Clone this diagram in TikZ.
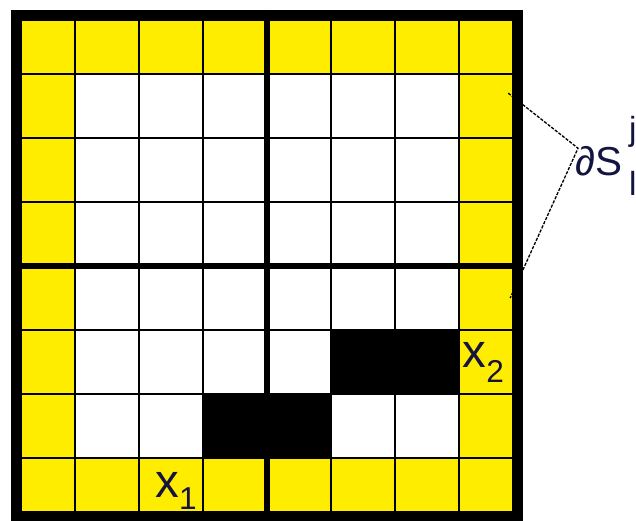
\documentclass[tikz,border=0pt]{standalone}
\usepackage{fontspec}
\setmainfont{Liberation Sans}
\definecolor{cellyellow}{RGB}{255,237,0}
\definecolor{labelblue}{RGB}{20,20,64}

\begin{document}
\begin{tikzpicture}[x=1.28cm,y=-1.28cm,thin line/.style={line width=1.1pt},thick line/.style={line width=3.4pt},lbl/.style={inner sep=0pt,text=labelblue}]
\useasboundingbox (-0.172,-0.156) rectangle (9.766,7.984);
\fill[cellyellow] (0,0) rectangle (8,8);
\fill[white] (1,1) rectangle (7,7);
\fill[black] (5,5) rectangle (7,6);\fill[black] (3,6) rectangle (5,7);
\foreach \i in {1,...,7}{\draw[thin line] (\i,0)--(\i,8);\draw[thin line] (0,\i)--(8,\i);}
\draw[thick line] (4,0)--(4,8);\draw[thick line] (0,4)--(8,4);
\draw[line width=6.2pt] (0.086,0.086) rectangle (7.914,7.914);
\node[lbl,anchor=base west] (xone) at (2.25,7.62) {\fontsize{27}{27}\selectfont x\raisebox{-7pt}{\fontsize{18}{18}\selectfont 1}};
\node[lbl,anchor=base west] (xtwo) at (7.05,5.58) {\fontsize{27}{27}\selectfont x\raisebox{-9pt}{\fontsize{18}{18}\selectfont 2}};
\node[lbl,anchor=base west] (ds) at (8.81,2.59) {\fontsize{23}{23}\selectfont ∂S\hspace{4pt}\fontsize{19}{19}\selectfont\rlap{\raisebox{20pt}{j}}\raisebox{-11pt}{l}};
\coordinate (tip) at (8.86,2.16);\coordinate (top) at (7.77,1.30);\coordinate (bot) at (7.80,4.50);
\draw[line width=0.75pt,dash pattern=on 1.8pt off 0.8pt] (top)--(tip)--(bot);
\end{tikzpicture}
\end{document}
